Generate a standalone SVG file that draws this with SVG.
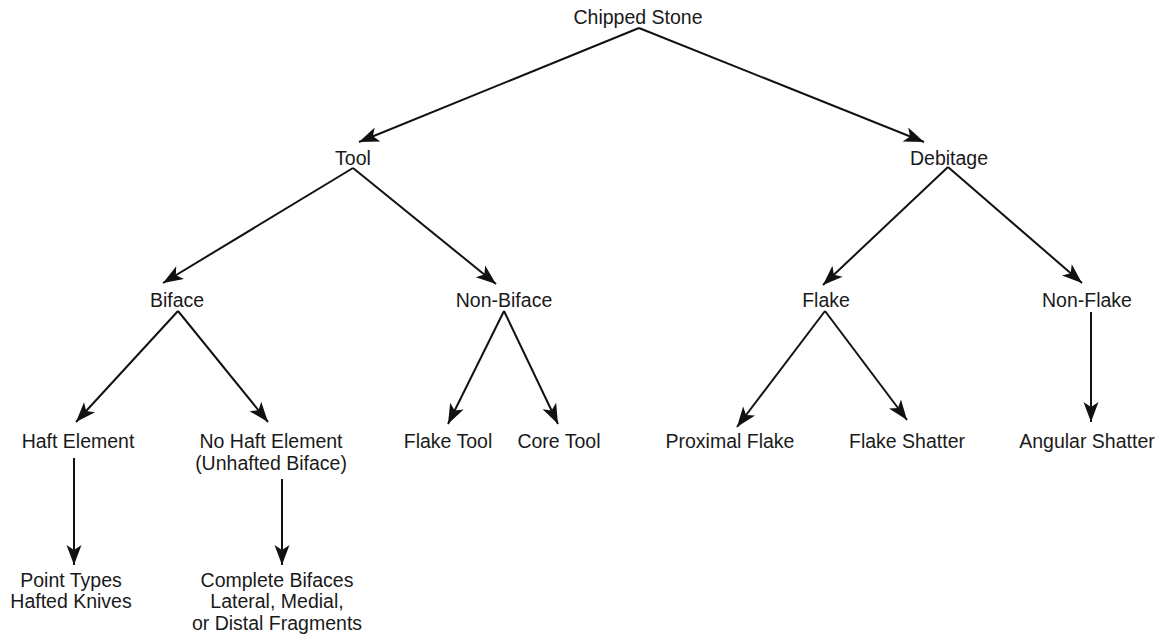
<svg xmlns="http://www.w3.org/2000/svg" width="1167" height="636" viewBox="0 0 1167 636">
<style>
text{font-family:"Liberation Sans",Arial,sans-serif;font-size:19.5px;fill:#1a1a1a;text-anchor:middle}
.c line{stroke:#111;stroke-width:2;marker-end:url(#ah)}
</style>
<defs>
<marker id="ah" markerUnits="userSpaceOnUse" markerWidth="22" markerHeight="16" refX="20" refY="8" orient="auto" overflow="visible">
<path d="M0,0.5 L20,8 L0,15.5 L5,8 Z" fill="#111"/>
</marker>
</defs>
<rect width="1167" height="636" fill="#fff"/>
<g id="connectors" class="c">
<line x1="639" y1="28" x2="359" y2="142"/>
<line x1="639" y1="28" x2="924" y2="142"/>
<line x1="353" y1="168" x2="163" y2="283"/>
<line x1="353" y1="168" x2="496" y2="284"/>
<line x1="948" y1="167" x2="823" y2="285"/>
<line x1="948" y1="167" x2="1082" y2="283"/>
<line x1="178" y1="311" x2="76" y2="422"/>
<line x1="178" y1="311" x2="268" y2="422"/>
<line x1="504" y1="311" x2="448" y2="424"/>
<line x1="504" y1="311" x2="558" y2="424"/>
<line x1="825" y1="311" x2="737" y2="427"/>
<line x1="825" y1="311" x2="907" y2="420"/>
<line x1="1091" y1="312" x2="1091" y2="422"/>
<line x1="74" y1="458" x2="74" y2="565"/>
<line x1="282" y1="479" x2="282" y2="565"/>
</g>
<g id="n-chipped"><text x="638" y="24">Chipped Stone</text></g>
<g id="n-tool"><text x="353" y="165">Tool</text></g>
<g id="n-debitage"><text x="949" y="165">Debitage</text></g>
<g id="n-biface"><text x="177" y="307">Biface</text></g>
<g id="n-nonbiface"><text x="504" y="307">Non-Biface</text></g>
<g id="n-flake"><text x="826" y="307">Flake</text></g>
<g id="n-nonflake"><text x="1087" y="307">Non-Flake</text></g>
<g id="n-haft"><text x="78" y="448">Haft Element</text></g>
<g id="n-nohaft"><text x="271" y="448">No Haft Element</text><text x="271" y="470">(Unhafted Biface)</text></g>
<g id="n-flaketool"><text x="448" y="448">Flake Tool</text></g>
<g id="n-coretool"><text x="559" y="448">Core Tool</text></g>
<g id="n-proximal"><text x="730" y="448">Proximal Flake</text></g>
<g id="n-flakeshatter"><text x="907" y="448">Flake Shatter</text></g>
<g id="n-angular"><text x="1087" y="448">Angular Shatter</text></g>
<g id="n-point"><text x="71" y="587">Point Types</text><text x="71" y="608">Hafted Knives</text></g>
<g id="n-complete"><text x="277" y="587">Complete Bifaces</text><text x="277" y="608">Lateral, Medial,</text><text x="277" y="630">or Distal Fragments</text></g>
</svg>
